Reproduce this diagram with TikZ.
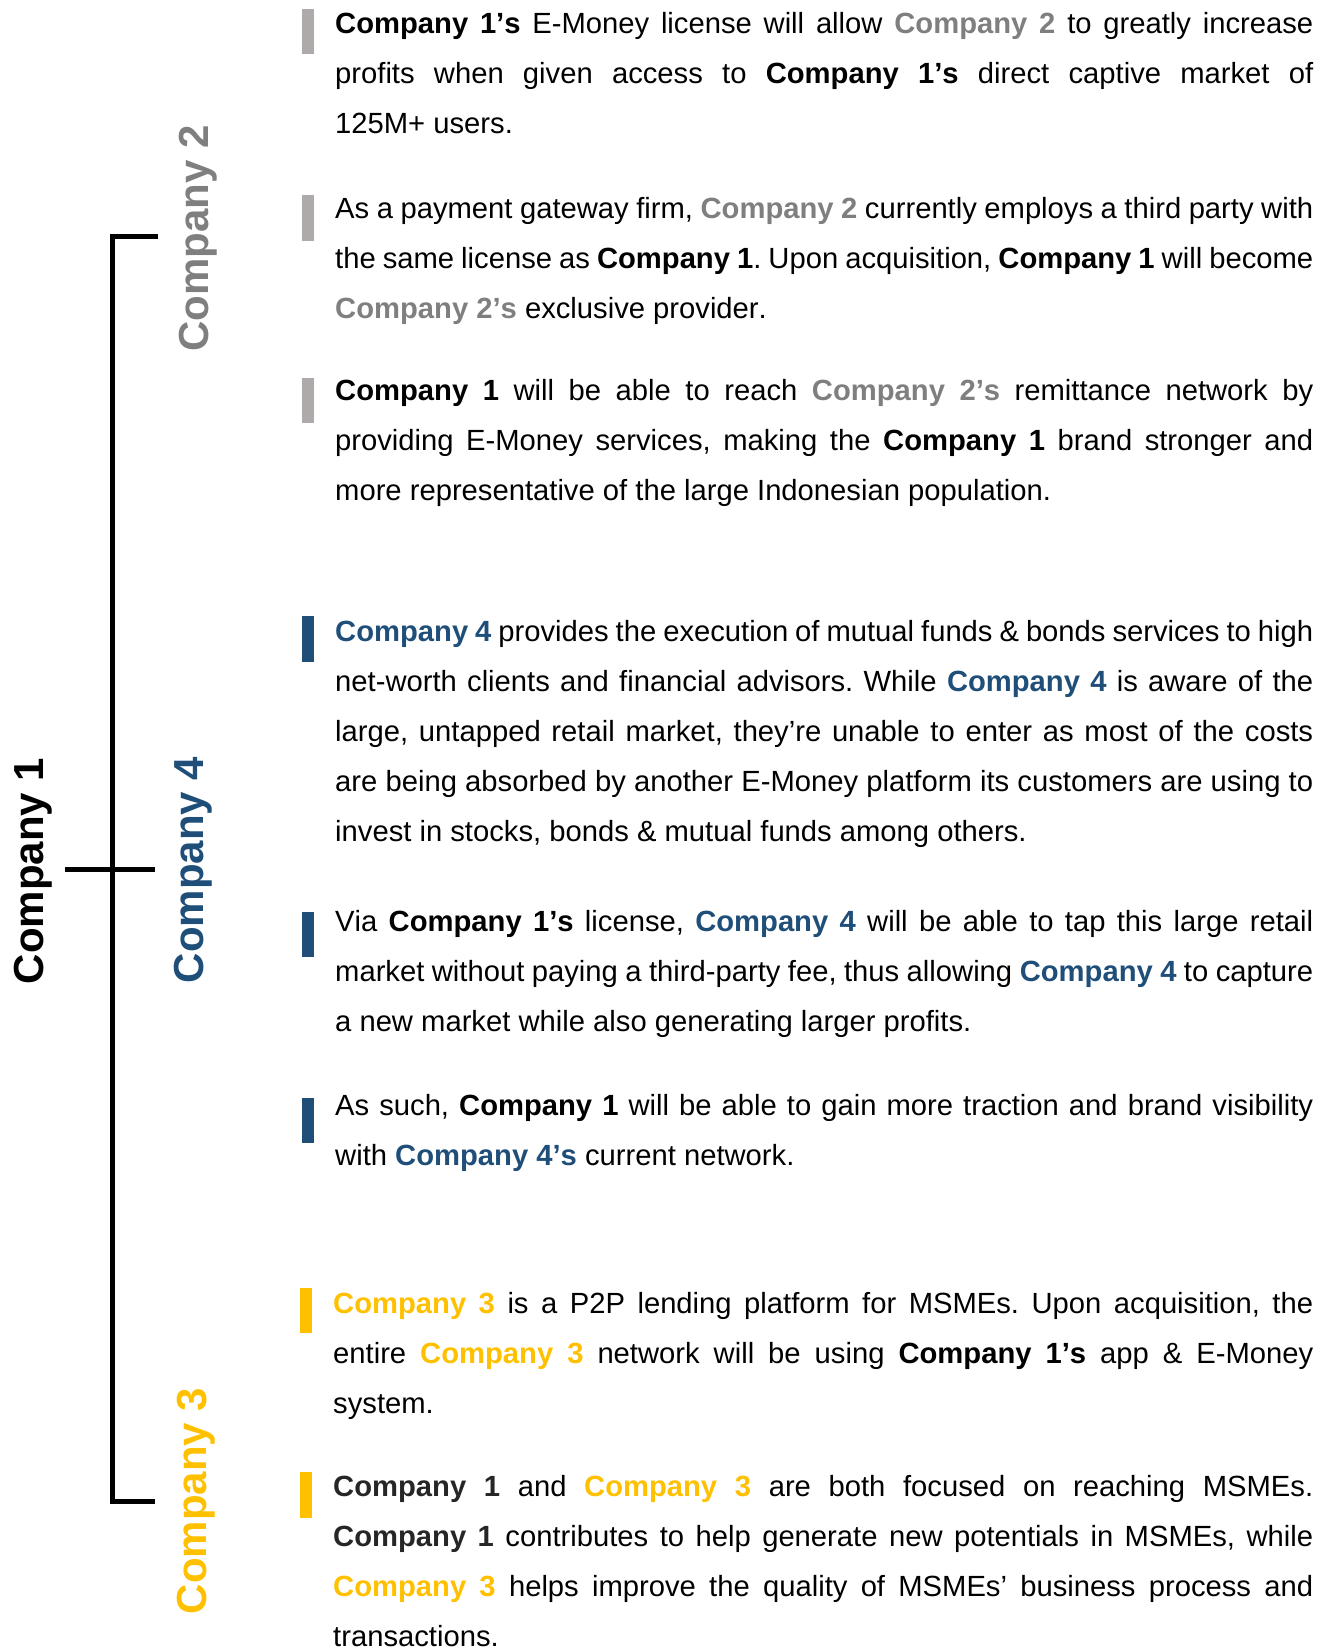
\documentclass[tikz,border=0pt]{standalone}
\usepackage{fontspec}
\setmainfont[Kerning=Off]{Liberation Sans}
\definecolor{cgrey}{HTML}{7F7F7F}
\definecolor{cbar}{HTML}{AEAAAA}
\definecolor{cblue}{HTML}{1F4E79}
\definecolor{cyellow}{HTML}{FFC000}
\definecolor{cdark}{HTML}{262626}
\newcommand{\bk}[1]{\textbf{#1}}
\newcommand{\gr}[1]{\textcolor{cgrey}{\textbf{#1}}}
\newcommand{\bl}[1]{\textcolor{cblue}{\textbf{#1}}}
\newcommand{\ye}[1]{\textcolor{cyellow}{\textbf{#1}}}
\newcommand{\dk}[1]{\textcolor{cdark}{\textbf{#1}}}
\tolerance=10000
\hbadness=10000
\hfuzz=20pt
\hyphenpenalty=10000
\exhyphenpenalty=10000
\frenchspacing
\tikzset{
  para/.style={anchor=base west, inner sep=0pt, text width=978pt, align=justify,
    font=\fontsize{29.2}{50}\selectfont\frenchspacing},
  vlabel/.style={rotate=90, anchor=base, inner sep=0pt, font=\fontsize{42}{50}\selectfont\bfseries},
  bracket/.style={line width=5pt, black},
  greybar/.style={fill=cbar},
  bluebar/.style={fill=cblue},
  yellowbar/.style={fill=cyellow}
}
\begin{document}
\begin{tikzpicture}[x=1pt, y=-1pt]
\useasboundingbox (0,0) rectangle (1329,1651);

% bracket
\coordinate (btop) at (158,236.7);
\coordinate (bbot) at (155,1501);
\coordinate (cl) at (65,869);
\coordinate (cr) at (155,869);
\draw[bracket] (btop) -- (112.5,236.7) -- (112.5,1501) -- (bbot);
\draw[bracket] (cl) -- (cr);

% vertical labels
\node[vlabel] (c1) at (43.3,871) {Company 1};
\node[vlabel, text=cgrey] (c2) at (208.3,238.5) {Company 2};
\node[vlabel, text=cblue] (c4) at (203.3,870) {Company 4};
\node[vlabel, text=cyellow] (c3) at (206.7,1501) {Company 3};

% bars
\fill[greybar] (302,9) rectangle (314,54);
\fill[greybar] (302,195) rectangle (314,241);
\fill[greybar] (302,377.7) rectangle (314,423.3);
\fill[bluebar] (302,616) rectangle (314,661.7);
\fill[bluebar] (302,911.7) rectangle (314,957.3);
\fill[bluebar] (302,1098) rectangle (314,1143);
\fill[yellowbar] (300,1288) rectangle (311.7,1333.3);
\fill[yellowbar] (300,1471.7) rectangle (311.7,1517.7);

% paragraphs
\node[para] (p1) at (335,33.3) {\bk{Company 1’s} E-Money license will allow \gr{Company 2} to greatly increase\linebreak
profits when given access to \bk{Company 1’s} direct captive market of\linebreak
125M+ users.};

\node[para] (p2) at (335,218.3) {As a payment gateway firm, \gr{Company 2} currently employs a third party with\linebreak
the same license as \bk{Company 1}. Upon acquisition, \bk{Company 1} will become\linebreak
\gr{Company 2’s} exclusive provider.};

\node[para] (p3) at (335,400) {\bk{Company 1} will be able to reach \gr{Company 2’s} remittance network by\linebreak
providing E-Money services, making the \bk{Company 1} brand stronger and\linebreak
more representative of the large Indonesian population.};

\node[para] (p4) at (335,641.7) {\bl{Company 4} provides the execution of mutual funds \& bonds services to high\linebreak
net-worth clients and financial advisors. While \bl{Company 4} is aware of the\linebreak
large, untapped retail market, they’re unable to enter as most of the costs\linebreak
are being absorbed by another E-Money platform its customers are using to\linebreak
invest in stocks, bonds \& mutual funds among others.};

\node[para] (p5) at (335,931.7) {Via \bk{Company 1’s} license, \bl{Company 4} will be able to tap this large retail\linebreak
market without paying a third-party fee, thus allowing \bl{Company 4} to capture\linebreak
a new market while also generating larger profits.};

\node[para] (p6) at (335,1115) {As such, \bk{Company 1} will be able to gain more traction and brand visibility\linebreak
with \bl{Company 4’s} current network.};

\node[para, text width=980pt] (p7) at (333,1313.3) {\ye{Company 3} is a P2P lending platform for MSMEs. Upon acquisition, the\linebreak
entire \ye{Company 3} network will be using \bk{Company 1’s} app \& E-Money\linebreak
system.};

\node[para, text width=980pt] (p8) at (333,1496.7) {\dk{Company 1} and \ye{Company 3} are both focused on reaching MSMEs.\linebreak
\dk{Company 1} contributes to help generate new potentials in MSMEs, while\linebreak
\ye{Company 3} helps improve the quality of MSMEs’ business process and\linebreak
transactions.};
\end{tikzpicture}
\end{document}
